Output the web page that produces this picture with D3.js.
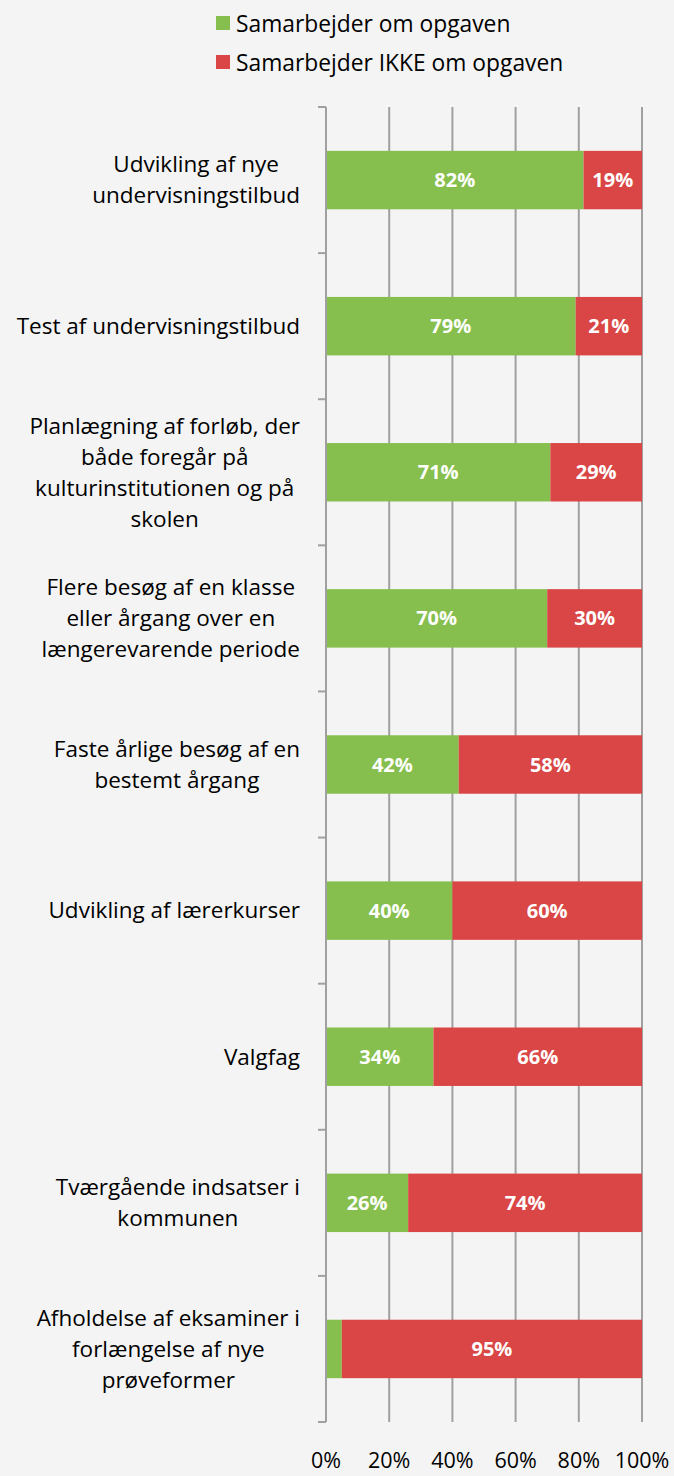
<!DOCTYPE html>
<html>
<head>
<meta charset="utf-8">
<script src="https://cdn.jsdelivr.net/npm/d3@7"></script>
<style>
  body { margin: 0; background: #f4f4f4; }
  svg { display: block; font-family: "Open Sans", "Lato", sans-serif; }
</style>
</head>
<body>
<script>

// Categories (line breaks as in the original labels)
var categories = [
  "Udvikling af nye\nundervisningstilbud",
  "Test af undervisningstilbud",
  "Planlægning af forløb, der\nbåde foregår på\nkulturinstitutionen og på\nskolen",
  "Flere besøg af en klasse\neller årgang over en\nlængerevarende periode",
  "Faste årlige besøg af en\nbestemt årgang",
  "Udvikling af lærerkurser",
  "Valgfag",
  "Tværgående indsatser i\nkommunen",
  "Afholdelse af eksaminer i\nforlængelse af nye\nprøveformer"
];

// Series values in percent
var samarbejder = [81.5, 79, 71, 70, 42, 40, 34, 26, 5];
var ikkeSamarbejder = [18.5, 21, 29, 30, 58, 60, 66, 74, 95];

var seriesNames = ["Samarbejder om opgaven", "Samarbejder IKKE om opgaven"];
var seriesColors = ["#86bf4d", "#d94645"];

var tickValues = [0, 20, 40, 60, 80, 100];

drawChart();

function drawChart(){

  var w = 674;
  var h = 1476;

  var svg = d3.select("body")
              .append("svg")
              .attr("width", w)
              .attr("height", h);

  var margin = {top: 107, right: 32, bottom: 54, left: 326};
  var graphWidth = w - margin.left - margin.right;
  var graphHeight = h - margin.top - margin.bottom;

  var graph = svg.append("g")
                 .attr("transform", `translate(${margin.left}, ${margin.top})`);

  var xScale = d3.scaleLinear()
                 .domain([0, 100])
                 .range([0, graphWidth]);

  var yScale = d3.scaleBand()
                 .domain(categories)
                 .range([0, graphHeight])
                 .paddingInner(0.6)
                 .paddingOuter(0.3);

  // vertical gridlines
  graph.append("g")
       .selectAll("line")
       .data(tickValues.slice(1))
       .enter()
       .append("line")
       .attr("x1", d => xScale(d))
       .attr("x2", d => xScale(d))
       .attr("y1", 0)
       .attr("y2", graphHeight)
       .attr("stroke", "#a0a0a0")
       .attr("stroke-width", 2);

  // stacked data
  var rows = categories.map((c, i) => ({cat: c, a: samarbejder[i], b: ikkeSamarbejder[i]}));
  var stack = d3.stack().keys(["a", "b"]);
  var stacked = stack(rows);

  var layers = graph.selectAll(".layer")
                    .data(stacked)
                    .enter()
                    .append("g")
                    .attr("fill", (d, i) => seriesColors[i]);

  layers.selectAll("rect")
        .data(d => d)
        .enter()
        .append("rect")
        .attr("x", d => xScale(d[0]))
        .attr("y", d => yScale(d.data.cat))
        .attr("width", d => xScale(d[1]) - xScale(d[0]))
        .attr("height", yScale.bandwidth());

  // value labels (skip the tiny segments)
  layers.selectAll("text")
        .data(d => d.filter(p => p[1] - p[0] >= 10))
        .enter()
        .append("text")
        .attr("x", d => (xScale(d[0]) + xScale(d[1])) / 2)
        .attr("y", d => yScale(d.data.cat) + yScale.bandwidth() / 2)
        .attr("dy", "0.35em")
        .attr("text-anchor", "middle")
        .attr("fill", "white")
        .attr("font-weight", "bold")
        .attr("font-size", 20)
        .text(d => Math.round(d[1] - d[0]) + "%");

  // y axis with ticks between categories
  var yAxis = graph.append("g");
  yAxis.append("line")
       .attr("x1", 0).attr("x2", 0)
       .attr("y1", 0).attr("y2", graphHeight)
       .attr("stroke", "#a0a0a0")
       .attr("stroke-width", 2);
  yAxis.selectAll(".tick")
       .data(d3.range(categories.length + 1))
       .enter()
       .append("line")
       .attr("x1", -8).attr("x2", 0)
       .attr("y1", i => i * graphHeight / categories.length)
       .attr("y2", i => i * graphHeight / categories.length)
       .attr("stroke", "#a0a0a0")
       .attr("stroke-width", 2);

  // category labels, block right aligned, lines centered
  categories.forEach(function(c){
    var lines = c.split("\n");
    var g = svg.append("g");
    var cy = margin.top + yScale(c) + yScale.bandwidth() / 2;
    var lh = 31;
    var texts = lines.map(function(l, j){
      return g.append("text")
              .attr("y", cy + (j - (lines.length - 1) / 2) * lh)
              .attr("dy", "0.35em")
              .attr("text-anchor", "middle")
              .attr("font-size", 22.5)
              .attr("fill", "#000")
              .text(l);
    });
    var maxW = d3.max(texts, t => t.node().getComputedTextLength());
    texts.forEach(t => t.attr("x", 300 - maxW / 2));
  });

  // x axis labels
  graph.append("g")
       .selectAll("text")
       .data(tickValues)
       .enter()
       .append("text")
       .attr("x", d => xScale(d))
       .attr("y", graphHeight + 38)
       .attr("dy", "0.35em")
       .attr("text-anchor", "middle")
       .attr("font-size", 21.5)
       .text(d => d + "%");

  // legend
  var legend = svg.append("g")
                  .attr("transform", "translate(216, 16)");
  var item = legend.selectAll("g")
                   .data(seriesNames)
                   .enter()
                   .append("g")
                   .attr("transform", (d, i) => `translate(0, ${i * 39})`);
  item.append("rect")
      .attr("width", 14)
      .attr("height", 14)
      .attr("fill", (d, i) => seriesColors[i]);
  item.append("text")
      .attr("x", 20)
      .attr("y", 8)
      .attr("dy", "0.35em")
      .attr("font-size", 22.8)
      .text(d => d);
};

</script>
</body>
</html>
